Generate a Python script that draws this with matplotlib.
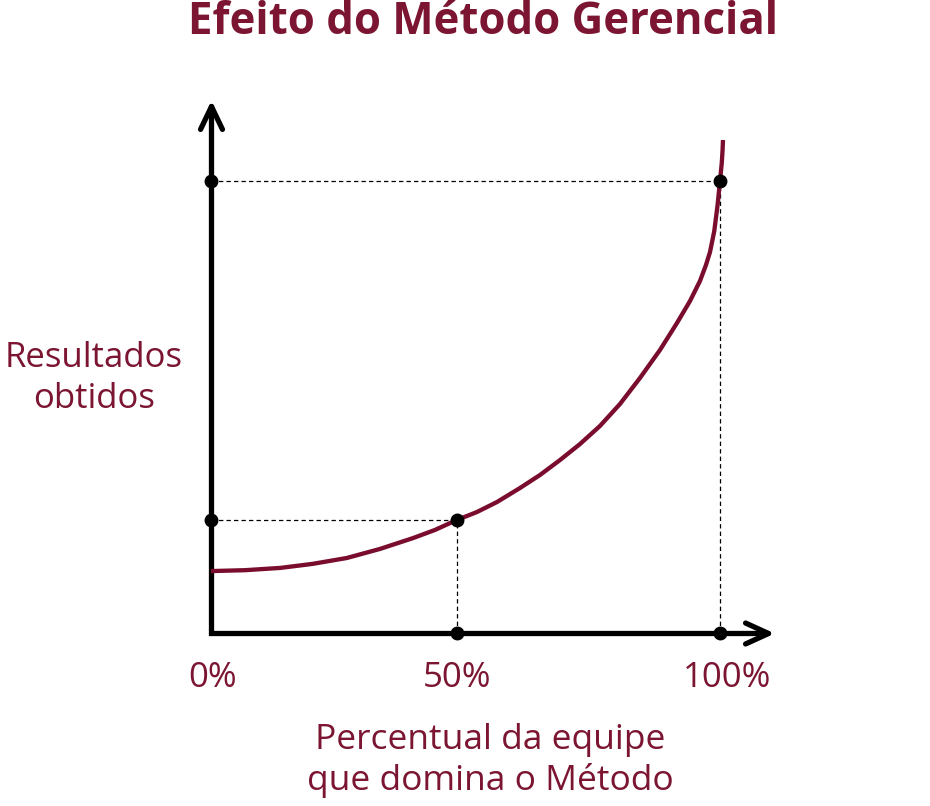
import matplotlib.pyplot as plt
from matplotlib.path import Path
from matplotlib.markers import MarkerStyle

# curva (x em % da equipe, y em % do resultado no ponto de 100%)
curve_x = [0.0, 6.7, 13.6, 20.0, 26.7, 33.2, 39.7, 44.0, 48.3, 52.26, 56.19, 60.71,
           64.64, 68.57, 72.50, 76.42, 80.35, 84.28, 88.21, 91.55, 94.11, 96.07, 97.25,
           98.04, 98.88, 99.53, 100.0, 100.35, 100.51, 100.59]
curve_y = [13.7, 13.9, 14.4, 15.3, 16.6, 18.6, 21.0, 22.8, 25.0, 26.77, 28.98, 32.08,
           34.96, 38.27, 41.81, 45.80, 50.66, 56.42, 62.61, 68.58, 73.45, 77.88, 81.42,
           84.29, 88.94, 94.69, 100.0, 103.98, 106.86, 109.07]

# pontos marcados
mid_x, mid_y = 48.3, 25.0
top_x, top_y = 100.0, 100.0

tick_labels = ["0%", "50%", "100%"]
label_x = [0.4, 48.4, 101.4]

red = "#7a0c2e"
text_red = "#7b1531"

fig = plt.figure(figsize=(9.3, 8.06), dpi=100)
ax = fig.add_axes([0, 0, 1, 1])
ax.set_xlim(-41.45, 141.26)
ax.set_ylim(-38.27, 140.04)
ax.axis("off")

plt.rcParams["font.family"] = ["Open Sans", "DejaVu Sans"]

# linhas tracejadas
dash = dict(color="black", lw=0.9, ls=(0, (3.5, 2.5)), zorder=2)
ax.plot([0, top_x], [top_y, top_y], **dash)
ax.plot([top_x, top_x], [0, top_y], **dash)
ax.plot([0, mid_x], [mid_y, mid_y], **dash)
ax.plot([mid_x, mid_x], [0, mid_y], **dash)

# eixos com setas (cabeça em V como marcador)
y_tip = 116.6
x_tip = 109.4
ax.plot([0, 0, x_tip], [y_tip, 0, 0], color="black", lw=3.8, solid_joinstyle="miter",
        solid_capstyle="round", zorder=3)
head_up = Path([(-11, -23), (0, 0), (11, -23)], [Path.MOVETO, Path.LINETO, Path.LINETO])
head_right = Path([(-23, -10.5), (0, 0), (-23, 10.5)], [Path.MOVETO, Path.LINETO, Path.LINETO])
for hp, hx, hy in [(head_up, 0, y_tip), (head_right, x_tip, 0)]:
    m = MarkerStyle(hp, fillstyle="none", capstyle="round", joinstyle="round")
    ax.plot([hx], [hy], marker=m, ms=33, mew=3.8, mec="black", mfc="none",
            ls="none", zorder=3)

# curva
ax.plot(curve_x, curve_y, color=red, lw=3.1, solid_capstyle="butt",
        solid_joinstyle="round", zorder=4)

# pontos
px = [0, mid_x, mid_x, 0, top_x, top_x]
py = [mid_y, mid_y, 0, top_y, top_y, 0]
ax.plot(px, py, "o", color="black", ms=9, zorder=5)

# textos
ax.text(53.4, 135.0, "Efeito do Método Gerencial", ha="center", va="center",
        fontsize=31.5, fontweight="bold", color=text_red)
ax.text(-23.0, 56.3, "Resultados\nobtidos", ha="center", va="center",
        fontsize=25, color=text_red, linespacing=1.28)
for lx, lab in zip(label_x, tick_labels):
    ax.text(lx, -10.0, lab, ha="center", va="center", fontsize=25, color=text_red)
ax.text(54.9, -28.2, "Percentual da equipe\nque domina o Método", ha="center", va="center",
        fontsize=25.5, color=text_red, linespacing=1.25)

fig.savefig("out.png", dpi=100)
